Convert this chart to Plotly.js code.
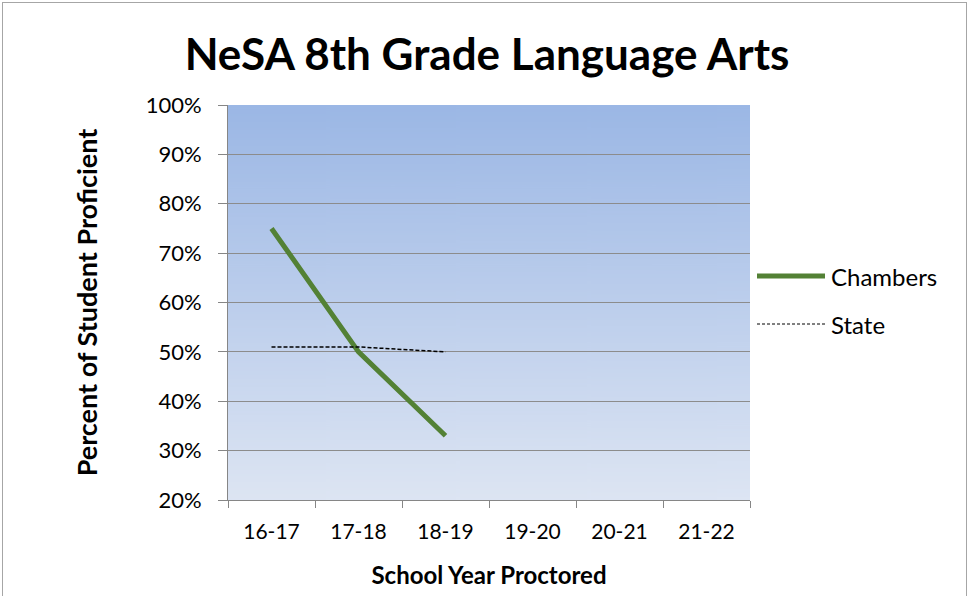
<!DOCTYPE html>
<html>
<head>
<meta charset="utf-8">
<script src="https://cdn.plot.ly/plotly-3.0.1.min.js"></script>
<style>
  html, body { margin: 0; padding: 0; background: #fff; }
  #wrap { position: relative; width: 969px; height: 596px; overflow: hidden; }
  #chart { width: 969px; height: 596px; }
  #frame { position: absolute; left: 2px; top: 2px; width: 965px; height: 620px;
           border: 1.5px solid #a6a6a6; pointer-events: none; box-sizing: border-box; }
</style>
</head>
<body>
<div id="wrap">
  <div id="chart"></div>
  <div id="frame"></div>
</div>
<script>
const years = ["16-17", "17-18", "18-19", "19-20", "20-21", "21-22"];
const chambersYears = ["16-17", "17-18", "18-19"];
const chambersValues = [0.75, 0.50, 0.33];
const stateYears = ["16-17", "17-18", "18-19"];
const stateValues = [0.51, 0.51, 0.50];
const yTickValues = [0.2, 0.3, 0.4, 0.5, 0.6, 0.7, 0.8, 0.9, 1.0];

// gradient background image for the plot area
const cv = document.createElement('canvas');
cv.width = 8; cv.height = 400;
const ctx = cv.getContext('2d');
const g = ctx.createLinearGradient(0, 0, 0, 400);
g.addColorStop(0, '#9bb7e5');
g.addColorStop(1, '#dde5f3');
ctx.fillStyle = g;
ctx.fillRect(0, 0, 8, 400);
const bgURL = cv.toDataURL('image/png');

const FONT = 'Lato, "Open Sans", sans-serif';

const traces = [
  {
    x: chambersYears, y: chambersValues, type: 'scatter', mode: 'lines',
    name: 'Chambers', line: { color: '#538135', width: 5 }, showlegend: false,
    hoverinfo: 'x+y'
  },
  {
    x: stateYears, y: stateValues, type: 'scatter', mode: 'lines',
    name: 'State', line: { color: '#000000', width: 1.5, dash: '4px,2px' }, showlegend: false,
    hoverinfo: 'x+y'
  }
];

// px helpers for legend placement (layout only)
const L = 228, R = 750, T = 105, B = 500;
const px = v => (v - L) / (R - L);
const py = v => (B - v) / (B - T);

const layout = {
  width: 969, height: 596,
  margin: { l: L, r: 969 - R, t: T, b: 596 - B, pad: 0 },
  paper_bgcolor: '#ffffff',
  plot_bgcolor: 'rgba(0,0,0,0)',
  font: { family: FONT, color: '#000000', size: 22 },
  title: {
    text: '<b>NeSA 8th Grade Language Arts</b>',
    font: { family: FONT, size: 44, color: '#000000' },
    xref: 'container', yref: 'container',
    x: 487 / 969, xanchor: 'center',
    y: 1 - 55 / 596, yanchor: 'middle'
  },
  xaxis: {
    type: 'category',
    categoryorder: 'array', categoryarray: years,
    tickvals: years, ticktext: years,
    range: [-0.5, 5.5],
    showgrid: false, zeroline: false,
    showline: true, linecolor: '#868686', linewidth: 1,
    ticks: 'outside', tickson: 'boundaries', ticklen: 7, tickcolor: '#868686', tickwidth: 1,
    tickfont: { family: FONT, size: 21, color: '#000' },
    ticklabelstandoff: 13,
    title: { text: '<b>School Year Proctored</b>', font: { family: FONT, size: 24, color: '#000' }, standoff: 24 },
    fixedrange: true
  },
  yaxis: {
    range: [0.2, 1.0],
    tickvals: yTickValues,
    tickformat: '.0%',
    showgrid: true, gridcolor: '#8c8c8c', gridwidth: 1,
    zeroline: false,
    showline: true, linecolor: '#868686', linewidth: 1,
    ticks: 'outside', ticklen: 9, tickcolor: '#868686', tickwidth: 1,
    tickfont: { family: FONT, size: 22, color: '#000' },
    ticklabelstandoff: 12,
    title: { text: '<b>Percent of Student Proficient</b>', font: { family: FONT, size: 27, color: '#000' }, standoff: 40 },
    fixedrange: true
  },
  images: [{
    source: bgURL, xref: 'paper', yref: 'paper',
    x: 0, y: 1, sizex: 1, sizey: 1, sizing: 'stretch',
    xanchor: 'left', yanchor: 'top', layer: 'below'
  }],
  shapes: [
    { type: 'line', xref: 'paper', yref: 'paper', x0: px(757), x1: px(825), y0: py(276), y1: py(276),
      line: { color: '#538135', width: 5 } },
    { type: 'line', xref: 'paper', yref: 'paper', x0: px(757), x1: px(825), y0: py(324), y1: py(324),
      line: { color: '#000000', width: 1, dash: '3px,2px' } }
  ],
  annotations: [
    { xref: 'paper', yref: 'paper', x: px(829), y: py(276), xanchor: 'left', yanchor: 'middle',
      text: 'Chambers', showarrow: false, font: { family: FONT, size: 24, color: '#000' } },
    { xref: 'paper', yref: 'paper', x: px(829), y: py(324), xanchor: 'left', yanchor: 'middle',
      text: 'State', showarrow: false, font: { family: FONT, size: 24, color: '#000' } }
  ],
  showlegend: false
};

Plotly.newPlot('chart', traces, layout, { displayModeBar: false, staticPlot: true });
</script>
</body>
</html>
